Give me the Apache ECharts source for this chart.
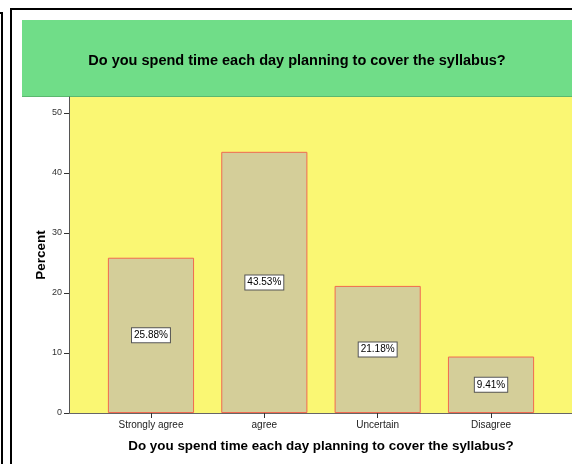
<!DOCTYPE html>
<html>
<head>
<meta charset="utf-8">
<script src="https://cdn.jsdelivr.net/npm/echarts@6/dist/echarts.min.js"></script>
<style>html,body{margin:0;padding:0;background:#fff;}#c{width:572px;height:464px;}</style>
</head>
<body>
<div id="c"></div>
<script>
const categories = ['Strongly agree', 'agree', 'Uncertain', 'Disagree'];
const percents = [25.88, 43.53, 21.18, 9.41];
const yTicks = [0, 10, 20, 30, 40, 50];
const chartTitle = 'Do you spend time each day planning to cover the syllabus?';
const xTitle = 'Do you spend time each day planning to cover the syllabus?';
const yTitle = 'Percent';

const FONT = 'Arial, "Liberation Sans", sans-serif';
const chart = echarts.init(document.getElementById('c'), null, {renderer: 'canvas'});
const yMax = 52.667;
chart.setOption({
  animation: false,
  backgroundColor: '#ffffff',
  graphic: [
    {type: 'line', shape: {x1: 2, y1: 13, x2: 2, y2: 464}, style: {stroke: '#000', lineWidth: 2}},
    {type: 'line', shape: {x1: 0, y1: 13, x2: 3, y2: 13}, style: {stroke: '#000', lineWidth: 2}},
    {type: 'line', shape: {x1: 11, y1: 9, x2: 11, y2: 464}, style: {stroke: '#000', lineWidth: 2}},
    {type: 'line', shape: {x1: 10, y1: 9, x2: 572, y2: 9}, style: {stroke: '#000', lineWidth: 2}},
    {type: 'rect', shape: {x: 22, y: 20, width: 550, height: 77}, style: {fill: '#70DD88'}, z: -1},
    {type: 'line', shape: {x1: 22, y1: 96.5, x2: 572, y2: 96.5}, style: {stroke: '#5BB86F', lineWidth: 1}},
    {type: 'text', x: 297, y: 61, style: {text: chartTitle, fill: '#000', font: 'bold 14.5px ' + FONT, textAlign: 'center', textVerticalAlign: 'middle'}}
  ],
  grid: [
    {left: 69, right: 0, top: 97, bottom: 51, show: true, backgroundColor: '#FAF773', borderWidth: 0},
    {left: 94.3, right: 24.3, top: 97, bottom: 51}
  ],
  xAxis: [
    {gridIndex: 0, type: 'category', data: [''], axisLine: {show: true, lineStyle: {color: '#666', width: 1}}, axisTick: {show: false}, axisLabel: {show: false}},
    {gridIndex: 1, type: 'category', data: categories, boundaryGap: true,
     axisLine: {show: false},
     axisTick: {show: true, alignWithLabel: true, length: 5, lineStyle: {color: '#333'}},
     axisLabel: {fontSize: 10, color: '#222', fontFamily: FONT, margin: 7},
     name: xTitle, nameLocation: 'middle', nameGap: 27, nameMoveOverlap: false,
     nameTextStyle: {fontSize: 13.4, fontWeight: 'bold', color: '#000', fontFamily: FONT}}
  ],
  yAxis: [
    {gridIndex: 0, type: 'value', min: 0, max: yMax, interval: 10,
     splitLine: {show: false},
     axisLine: {show: true, lineStyle: {color: '#555'}},
     axisTick: {show: true, length: 5, customValues: yTicks, lineStyle: {color: '#333'}},
     axisLabel: {fontSize: 9, color: '#333', fontFamily: FONT, margin: 7, customValues: yTicks},
     name: yTitle, nameLocation: 'middle', nameGap: 21, nameRotate: 90, nameMoveOverlap: false,
     nameTextStyle: {fontSize: 13.5, fontWeight: 'bold', color: '#000', fontFamily: FONT}},
    {gridIndex: 1, type: 'value', min: 0, max: yMax, show: false, splitLine: {show: false}}
  ],
  series: [{
    type: 'bar', xAxisIndex: 1, yAxisIndex: 1,
    data: percents, barWidth: '76%',
    itemStyle: {color: '#D4CE99', borderColor: '#F06A50', borderWidth: 1},
    label: {show: true, position: 'inside', formatter: p => p.value.toFixed(2) + '%',
      fontSize: 10, color: '#000', fontFamily: FONT,
      backgroundColor: '#fff', borderColor: '#555', borderWidth: 1, padding: [2, 2]}
  }]
});
</script>
</body>
</html>
